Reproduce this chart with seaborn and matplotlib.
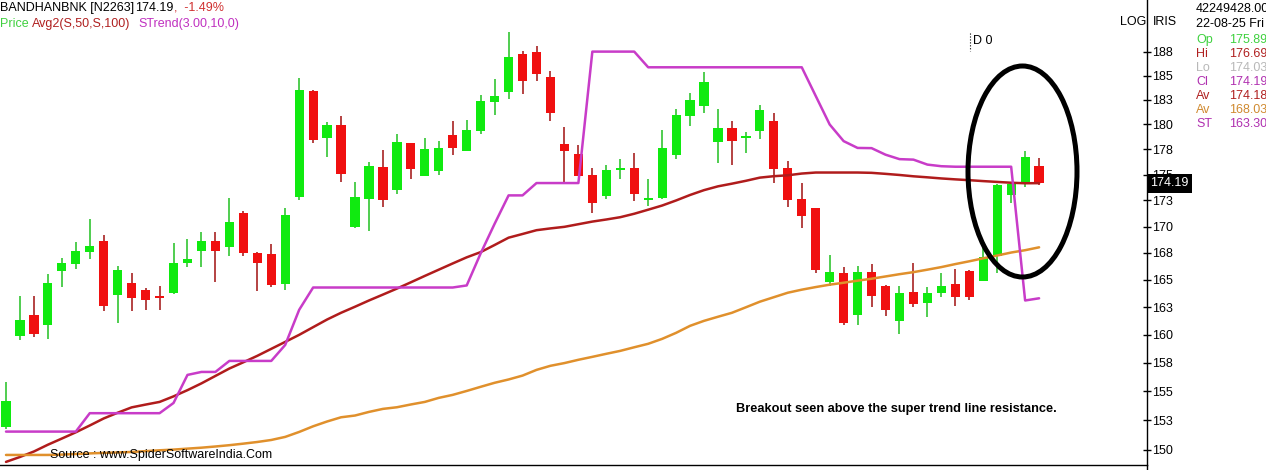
import numpy as np
import pandas as pd
import matplotlib
matplotlib.use('Agg')
import matplotlib.pyplot as plt
import matplotlib.transforms as mtransforms
from matplotlib.patches import Ellipse
from matplotlib.lines import Line2D
from matplotlib.ticker import FixedLocator, NullLocator
import seaborn as sns

# OHLC, one value per daily candle
opens = [151.9, 159.9, 161.8, 160.9, 165.8, 166.5, 167.6, 168.6, 163.6, 164.7,
         164.1, 163.4, 163.8, 166.6, 167.7, 168.6, 168.1, 171.3, 167.5, 167.4,
         164.6, 172.8, 183.4, 178.6, 179.9, 170.0, 172.6, 175.8, 173.5, 178.1,
         174.9, 175.4, 178.9, 177.3, 179.3, 182.3, 183.3, 187.3, 187.5, 184.9,
         178.0, 177.0, 175.0, 172.9, 175.5, 175.7, 172.5, 172.7, 176.9, 180.9,
         181.9, 178.2, 179.6, 178.6, 179.3, 180.4, 175.7, 172.6, 171.8, 164.8,
         165.6, 161.8, 165.7, 164.4, 161.2, 163.9, 162.9, 163.8, 164.6, 165.8,
         164.9, 167.2, 173.0, 174.2, 175.89]
highs = [155.8, 163.5, 163.5, 165.5, 167.0, 168.5, 170.7, 169.2, 166.3, 165.6,
         164.2, 164.4, 168.4, 168.8, 169.5, 169.5, 172.7, 171.5, 167.6, 168.3,
         171.8, 184.8, 183.5, 180.2, 180.9, 174.3, 176.3, 177.4, 179.0, 178.1,
         178.6, 178.3, 180.4, 180.5, 183.0, 184.6, 189.6, 187.6, 188.1, 185.5,
         179.7, 177.9, 175.7, 176.0, 176.6, 177.1, 174.6, 179.4, 181.6, 183.2,
         185.4, 181.6, 180.4, 179.2, 182.0, 181.2, 176.4, 174.2, 171.8, 167.3,
         166.2, 166.3, 166.5, 164.5, 164.4, 166.6, 164.3, 165.6, 166.0, 165.9,
         168.0, 174.1, 174.3, 177.3, 176.69]
lows = [151.8, 159.5, 159.8, 159.6, 164.3, 166.0, 166.9, 162.1, 161.1, 162.1,
        162.2, 162.2, 163.7, 166.2, 166.2, 164.8, 167.2, 167.2, 164.0, 164.3,
        164.1, 172.5, 178.1, 176.8, 174.3, 169.9, 169.6, 171.9, 173.1, 174.6,
        174.9, 175.0, 176.9, 177.3, 179.0, 181.0, 182.6, 183.1, 184.4, 180.4,
        174.2, 174.9, 171.3, 172.6, 174.6, 172.4, 172.0, 172.6, 176.6, 179.8,
        181.2, 176.2, 176.0, 177.1, 178.5, 174.2, 171.9, 169.9, 165.6, 164.4,
        160.9, 160.9, 162.5, 161.7, 160.1, 162.5, 161.6, 163.4, 162.6, 163.1,
        164.9, 165.6, 172.3, 173.8, 174.03]
closes = [154.2, 161.3, 160.1, 164.7, 166.6, 167.7, 168.2, 162.6, 165.9, 163.3,
          163.1, 163.3, 166.6, 166.9, 168.6, 167.7, 170.4, 167.5, 166.6, 164.5,
          171.1, 183.5, 178.4, 179.9, 175.1, 172.8, 175.9, 172.5, 178.2, 175.6,
          177.5, 177.6, 177.6, 179.4, 182.4, 182.9, 186.9, 184.4, 185.2, 181.2,
          177.3, 174.9, 172.3, 175.5, 175.7, 173.1, 172.7, 177.6, 181.0, 182.5,
          184.3, 179.6, 178.3, 178.8, 181.5, 175.6, 172.5, 171.0, 165.9, 165.7,
          161.1, 165.7, 163.5, 162.2, 163.8, 162.8, 163.8, 164.4, 163.4, 163.4,
          167.1, 174.0, 174.1, 176.8, 174.19]

# moving averages (50 / 100) and super trend
ma50 = [149.0, 149.41, 149.87, 150.44, 150.96, 151.49, 152.07, 152.67, 153.16, 153.62,
        153.86, 154.09, 154.57, 155.11, 155.70, 156.35, 157.00, 157.55, 158.12, 158.74,
        159.36, 159.99, 160.68, 161.37, 161.98, 162.53, 163.10, 163.64, 164.19, 164.77,
        165.36, 165.94, 166.52, 167.09, 167.58, 168.25, 168.94, 169.29, 169.65, 169.82,
        169.97, 170.22, 170.47, 170.67, 170.89, 171.22, 171.61, 172.01, 172.50, 173.03,
        173.50, 173.87, 174.13, 174.41, 174.72, 174.86, 174.95, 175.12, 175.22, 175.22,
        175.22, 175.22, 175.19, 175.09, 174.98, 174.85, 174.75, 174.64, 174.55, 174.47,
        174.38, 174.30, 174.22, 174.17, 174.18]
ma100 = [149.58, 149.58, 149.58, 149.58, 149.61, 149.66, 149.71, 149.75, 149.79, 149.83,
         149.90, 149.97, 150.03, 150.11, 150.19, 150.29, 150.40, 150.53, 150.67, 150.84,
         151.10, 151.52, 152.00, 152.41, 152.77, 152.92, 153.23, 153.49, 153.63, 153.87,
         154.09, 154.44, 154.70, 155.04, 155.40, 155.75, 156.04, 156.38, 156.88, 157.24,
         157.48, 157.77, 158.03, 158.30, 158.56, 158.88, 159.19, 159.63, 160.17, 160.80,
         161.25, 161.62, 161.98, 162.48, 162.99, 163.40, 163.81, 164.09, 164.33, 164.55,
         164.73, 164.92, 165.10, 165.31, 165.52, 165.71, 165.94, 166.18, 166.46, 166.72,
         167.00, 167.26, 167.54, 167.76, 168.03]
strend = [151.55, 151.55, 151.55, 151.55, 151.55, 151.55, 153.12, 153.12, 153.12, 153.12,
          153.12, 153.12, 154.00, 156.44, 156.70, 156.70, 157.67, 157.67, 157.67, 157.67,
          159.09, 162.25, 164.29, 164.29, 164.29, 164.29, 164.29, 164.29, 164.29, 164.29,
          164.29, 164.29, 164.29, 164.48, 167.46, 170.26, 172.99, 172.99, 174.19, 174.19,
          174.19, 174.19, 187.50, 187.50, 187.50, 187.50, 185.86, 185.86, 185.86, 185.86,
          185.86, 185.86, 185.86, 185.86, 185.86, 185.86, 185.86, 185.86, 182.90, 180.00,
          178.33, 177.65, 177.63, 176.98, 176.54, 176.49, 176.00, 175.84, 175.79, 175.79,
          175.79, 175.79, 175.79, 163.10, 163.30]

tick_vals = [150, 152.5, 155, 157.5, 160, 162.5, 165, 167.5, 170, 172.5,
             175, 177.5, 180, 182.5, 185, 187.5]
tick_labels = ['150', '153', '155', '158', '160', '163', '165', '168', '170', '173',
               '175', '178', '180', '183', '185', '188']

info_labels = ['Op', 'Hi', 'Lo', 'Cl', 'Av', 'Av', 'ST']
info_values = ['175.89', '176.69', '174.03', '174.19', '174.18', '168.03', '163.30']
info_colors = ['#3fd13f', '#b02020', '#b8b8b8', '#b030b0', '#b02020', '#d08a30', '#b030b0']

df = pd.DataFrame({'open': opens, 'high': highs, 'low': lows, 'close': closes,
                   'ma50': ma50, 'ma100': ma100, 'st': strend})
df['idx'] = np.arange(len(df))

sns.set_style('white')
plt.rcParams['font.family'] = ['Liberation Sans', 'DejaVu Sans']

W, H = 1266, 470
fig = plt.figure(figsize=(W / 100, H / 100), dpi=100)
ax = fig.add_axes([0, 5 / H, 1147 / W, 465 / H])

up_col, dn_col = '#10ea10', '#f01010'
up_wick, dn_wick = '#20c020', '#a01010'

up = df[df['close'] >= df['open']]
dn = df[df['close'] < df['open']]
ax.vlines(up['idx'], up['low'], up['high'], color=up_wick, lw=1.1, zorder=2)
ax.vlines(dn['idx'], dn['low'], dn['high'], color=dn_wick, lw=1.1, zorder=2)
body = np.maximum((df['close'] - df['open']).abs(), 0.18)
bottom = np.minimum(df['open'], df['close'])
cols = np.where(df['close'] >= df['open'], up_col, dn_col)
ax.bar(df['idx'], body, bottom=bottom, width=0.66, color=cols, linewidth=0, zorder=3)

sns.lineplot(data=df, x='idx', y='ma50', ax=ax, color='#b01c1c', lw=1.8, zorder=4)
sns.lineplot(data=df, x='idx', y='ma100', ax=ax, color='#e0902c', lw=1.8, zorder=4)
sns.lineplot(data=df, x='idx', y='st', ax=ax, color='#c83cc8', lw=1.8, zorder=4)

ax.set_yscale('log')
ax.set_ylim(148.74, 193.0)
ax.set_xlim(-0.43, 81.73)
ax.yaxis.set_major_locator(FixedLocator(tick_vals))
ax.yaxis.set_minor_locator(NullLocator())
ax.set_yticklabels(tick_labels)
ax.yaxis.tick_right()
ax.set_xticks([])
ax.tick_params(axis='y', direction='inout', length=6, width=1, pad=1,
               labelsize=9, colors='black')
ax.set_xlabel('')
ax.set_ylabel('')
for side in ['left', 'top']:
    ax.spines[side].set_visible(False)
for side in ['right', 'bottom']:
    ax.spines[side].set_color('black')
    ax.spines[side].set_linewidth(1)
fig.add_artist(Line2D([1147 / W, 1147 / W], [0, 5 / H], color='black', lw=1))

# last price box on the axis
trans = mtransforms.blended_transform_factory(ax.transAxes, ax.transData)
ax.text(1.003, 174.19, '174.19', transform=trans, ha='left', va='center',
        fontsize=9, color='white', zorder=10, clip_on=False,
        bbox=dict(facecolor='black', edgecolor='none', pad=2.5))

# circle round the breakout
ax.add_patch(Ellipse((1022.5 / 1147, (465 - 171.5) / 465), 109 / 1147, 211 / 465,
                     transform=ax.transAxes, fill=False, edgecolor='black',
                     lw=3.6, zorder=6))


def ftext(x, y, s, **kw):
    fig.text(x / W, 1 - y / H, s, va='center', ha=kw.pop('ha', 'left'), **kw)


ftext(0, 8, 'BANDHANBNK [N2263]', fontsize=9, color='black')
ftext(135, 8, '174.19', fontsize=9, color='black')
ftext(174, 8, ',  -1.49%', fontsize=9, color='#d03030')
ftext(0, 24, 'Price', fontsize=9, color='#40d040')
ftext(32, 24, 'Avg2(S,50,S,100)', fontsize=9, color='#b02020')
ftext(138, 24, 'STrend(3.00,10,0)', fontsize=9, color='#c030c0')

ftext(1120, 22, 'LOG', fontsize=9, color='black')
ftext(1153, 22, 'IRIS', fontsize=9, color='black')
ftext(1196, 9, '42249428.00', fontsize=9, color='black')
ftext(1196, 24, '22-08-25 Fri', fontsize=9, color='black')
for k, (lab, val, c) in enumerate(zip(info_labels, info_values, info_colors)):
    ftext(1196, 40 + 14 * k, lab, fontsize=9, color=c)
    ftext(1229, 40 + 14 * k, val, fontsize=9, color=c)

ftext(973, 41, 'D 0', fontsize=9, color='black')
fig.add_artist(Line2D([970 / W, 970 / W], [1 - 33 / H, 1 - 51 / H], color='black',
                      lw=0.8, ls=':'))

ftext(736, 409, 'Breakout seen above the super trend line resistance.',
      fontsize=9.2, fontweight='bold', color='black')
ftext(50, 455, 'Source : www.SpiderSoftwareIndia.Com', fontsize=9, color='black',
      zorder=10)

fig.savefig('out.png', dpi=100)
